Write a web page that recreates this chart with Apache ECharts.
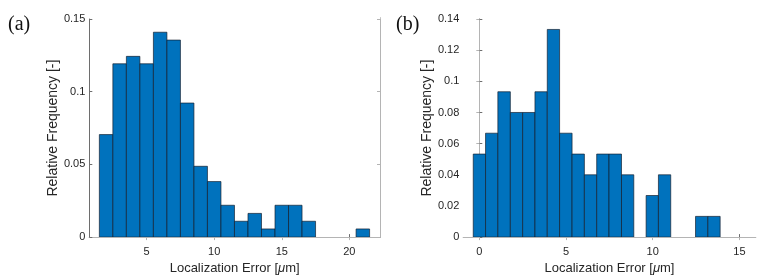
<!DOCTYPE html>
<html>
<head>
<meta charset="utf-8">
<script src="https://cdn.jsdelivr.net/npm/echarts@6/dist/echarts.min.js"></script>
<style>html,body{margin:0;padding:0;background:#fff}#c{width:762px;height:280px}</style>
</head>
<body>
<div id="c"></div>
<script>
// Panel (a): histogram bin edges and relative frequencies
var aEdges = [1.5, 2.5, 3.5, 4.5, 5.5, 6.5, 7.5, 8.5, 9.5, 10.5, 11.5, 12.5, 13.5, 14.5, 15.5, 16.5, 17.5, 18.5, 19.5, 20.5, 21.5];
var aFreq = [0.0705, 0.1192, 0.1243, 0.1192, 0.1409, 0.1355, 0.0922, 0.0487, 0.0382, 0.0219, 0.0109, 0.0163, 0.0056, 0.0219, 0.0219, 0.0109, 0, 0, 0, 0.0056];
var aXTicks = [5, 10, 15, 20];
// Panel (b)
var bEdges = [-0.35, 0.36, 1.07, 1.79, 2.50, 3.21, 3.92, 4.63, 5.35, 6.06, 6.77, 7.48, 8.20, 8.91, 9.62, 10.33, 11.04, 11.75, 12.47, 13.18, 13.89];
var bFreq = [0.0533, 0.0667, 0.0933, 0.08, 0.08, 0.0933, 0.1333, 0.0667, 0.0533, 0.04, 0.0533, 0.0533, 0.04, 0, 0.0267, 0.04, 0, 0, 0.0133, 0.0133];
var bXTicks = [0, 5, 10, 15];

var xName = 'Localization Error [{i|μ}m]';
var yName = 'Relative Frequency [-]';
var FONT = '"Liberation Sans", Arial, sans-serif';
var txt = '#262626';
var lineDark = '#6e6e6e';
var lineLight = '#b4b4b4';

function toData(edges, freq) {
  var d = [];
  for (var i = 0; i < freq.length; i++) {
    if (freq[i] > 0) d.push([edges[i], edges[i + 1], freq[i]]);
  }
  return d;
}

function renderBar(params, api) {
  var p0 = api.coord([api.value(0), 0]);
  var p1 = api.coord([api.value(1), api.value(2)]);
  return {
    type: 'rect',
    shape: { x: p0[0], y: p1[1], width: p1[0] - p0[0], height: p0[1] - p1[1] },
    style: { fill: '#0072BD', stroke: 'rgba(20,30,45,0.85)', lineWidth: 0.8 }
  };
}

var grids = [
  { left: 89.3, top: 19, width: 290.7, height: 223.7 },
  { left: 463.3, top: 19, width: 292.4, height: 223.7 }
];
var xr = [[0.756, 22.27], [-0.923, 15.94]];
var yr = [[0, 0.15, 0.05], [0, 0.14, 0.02]];
var xt = [aXTicks, bXTicks];
var yGap = [22, 27];

var xAxis = [], yAxis = [], series = [];
for (var g = 0; g < 2; g++) {
  xAxis.push({
    type: 'value', gridIndex: g, position: 'bottom', min: xr[g][0], max: xr[g][1],
    axisLine: { show: true, lineStyle: { color: lineDark, width: 1 } },
    axisTick: { show: true, inside: true, length: 3, customValues: xt[g], lineStyle: { color: lineDark } },
    axisLabel: { show: true, customValues: xt[g], color: txt, fontFamily: FONT, fontSize: 11, margin: 9 },
    splitLine: { show: false },
    name: xName, nameLocation: 'middle', nameGap: 15,
    nameTextStyle: { color: txt, fontFamily: FONT, fontSize: 13, verticalAlign: 'top',
      rich: { i: { fontStyle: 'italic', fontFamily: FONT, fontSize: 13, color: txt } } }
  });
  xAxis.push({
    type: 'value', gridIndex: g, position: 'top', min: xr[g][0], max: xr[g][1],
    axisLine: { show: true, lineStyle: { color: lineLight, width: 1 } },
    axisTick: { show: true, inside: true, length: 3, customValues: xt[g], lineStyle: { color: lineLight } },
    axisLabel: { show: false }, splitLine: { show: false }
  });
  yAxis.push({
    type: 'value', gridIndex: g, position: 'left', min: yr[g][0], max: yr[g][1], interval: yr[g][2],
    axisLine: { show: true, lineStyle: { color: lineDark, width: 1 } },
    axisTick: { show: true, inside: true, length: 3, lineStyle: { color: lineDark } },
    axisLabel: { color: txt, fontFamily: FONT, fontSize: 11, margin: 4,
      formatter: function (v) { return String(+v.toFixed(2)); } },
    splitLine: { show: false },
    name: yName, nameLocation: 'middle', nameGap: yGap[g], nameRotate: 90,
    nameTextStyle: { color: txt, fontFamily: FONT, fontSize: 14 }
  });
  yAxis.push({
    type: 'value', gridIndex: g, position: 'right', min: yr[g][0], max: yr[g][1], interval: yr[g][2],
    axisLine: { show: true, lineStyle: { color: lineLight, width: 1 } },
    axisTick: { show: true, inside: true, length: 3, lineStyle: { color: lineLight } },
    axisLabel: { show: false }, splitLine: { show: false }
  });
}
series.push({ type: 'custom', xAxisIndex: 0, yAxisIndex: 0, renderItem: renderBar, data: toData(aEdges, aFreq), clip: true, encode: { x: [0, 1], y: 2 } });
series.push({ type: 'custom', xAxisIndex: 2, yAxisIndex: 2, renderItem: renderBar, data: toData(bEdges, bFreq), clip: true, encode: { x: [0, 1], y: 2 } });

var chart = echarts.init(document.getElementById('c'), null, { renderer: 'canvas' });
chart.setOption({
  animation: false,
  backgroundColor: '#ffffff',
  grid: grids,
  xAxis: xAxis,
  yAxis: yAxis,
  series: series,
  graphic: [
    { type: 'text', left: 8, top: 15, style: { text: '(a)', font: '20px "Liberation Serif", "Times New Roman", serif', fill: '#111' } },
    { type: 'text', left: 396, top: 15, style: { text: '(b)', font: '20px "Liberation Serif", "Times New Roman", serif', fill: '#111' } },
    { type: 'line', shape: { x1: 380.5, y1: 17, x2: 380.5, y2: 237 }, style: { stroke: '#cccccc', lineWidth: 1 } }
  ]
});
</script>
</body>
</html>
